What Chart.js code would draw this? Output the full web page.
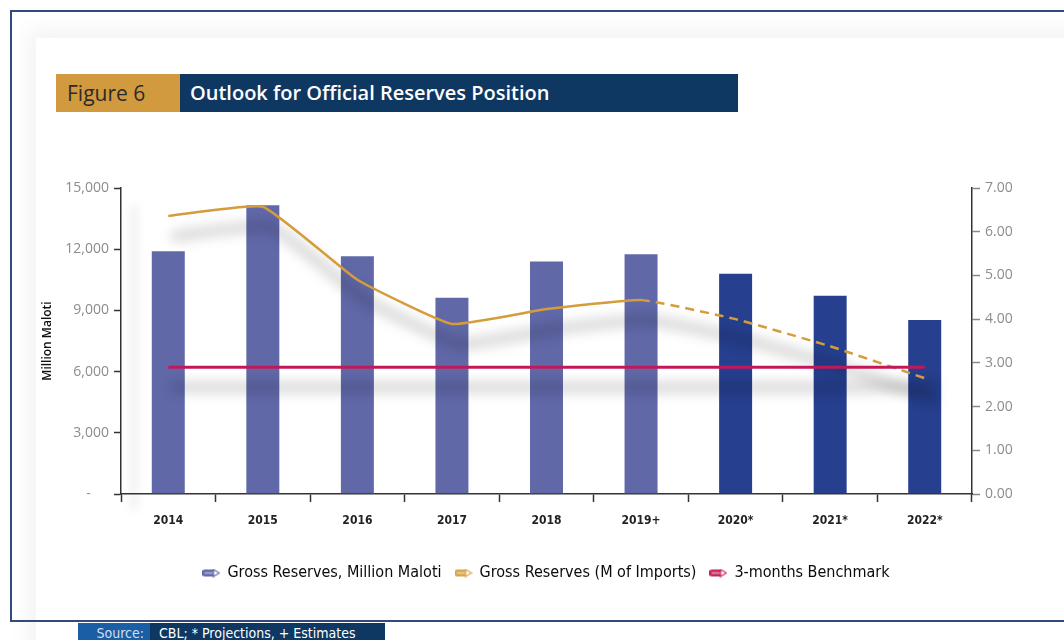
<!DOCTYPE html>
<html>
<head>
<meta charset="utf-8">
<script src="https://cdn.jsdelivr.net/npm/chart.js@4.4.1/dist/chart.umd.min.js"></script>
<style>
  html, body { margin: 0; padding: 0; background: #fff; }
  body { width: 1064px; height: 640px; position: relative; overflow: hidden; font-family: "Open Sans", sans-serif; }
  .frame { position: absolute; left: 10px; top: 10px; width: 1100px; height: 612px; border: 2px solid #2d4b7c; box-sizing: border-box; }
  .card { position: absolute; left: 36px; top: 38px; width: 1100px; height: 640px; background: #fff; box-shadow: 0 0 20px 8px rgba(0,0,0,0.05); }
  .vshade { position: absolute; left: 130px; top: 205px; width: 8px; height: 305px; background: rgba(0,0,0,0.06); filter: blur(5px); }
  .fig { position: absolute; left: 56px; top: 74px; width: 124px; height: 38px; background: #d19a3e; color: #2b2b2b; font-size: 21px; line-height: 38px; padding-left: 11px; box-sizing: border-box; }
  .ttl { position: absolute; left: 180px; top: 74px; width: 558px; height: 38px; background: #0e3761; color: #fff; font-size: 20px; font-weight: 600; line-height: 38px; padding-left: 10px; box-sizing: border-box; }
  .src1 { position: absolute; left: 78px; top: 623px; width: 72px; height: 20px; background: #1a5ea6; color: #d5deef; font-family: "DejaVu Sans Condensed", sans-serif; font-size: 14px; line-height: 20px; text-align: right; padding-right: 6px; box-sizing: border-box; }
  .src2 { position: absolute; left: 150px; top: 623px; width: 235px; height: 20px; background: #0e3761; color: #fff; font-family: "DejaVu Sans Condensed", sans-serif; font-size: 14px; line-height: 20px; padding-left: 9px; box-sizing: border-box; }
  canvas { position: absolute; left: 0; top: 0; }
</style>
</head>
<body>
<div class="card"></div>
<div class="frame"></div>
<div class="vshade"></div>
<div class="fig">Figure 6</div>
<div class="ttl">Outlook for Official Reserves Position</div>
<div class="src1">Source:</div>
<div class="src2">CBL; * Projections, + Estimates</div>
<canvas id="reserves" width="1064" height="640"></canvas>
<script>
const years = ['2014', '2015', '2016', '2017', '2018', '2019+', '2020*', '2021*', '2022*'];
const grossMaloti = [11950, 14200, 11700, 9670, 11450, 11800, 10850, 9770, 8580];
const monthsImports = [6.36, 6.57, 4.90, 3.89, 4.23, 4.44, 4.00, 3.38, 2.65];
const benchmark = [2.9, 2.9, 2.9, 2.9, 2.9, 2.9, 2.9, 2.9, 2.9];
const leftTicks = [0, 3000, 6000, 9000, 12000, 15000];
const rightTicks = [0, 1, 2, 3, 4, 5, 6, 7];

const barColors = years.map(y => y.endsWith('*') ? '#263f8e' : '#6068a8');

function pencil(color) {
  const c = document.createElement('canvas');
  c.width = 18; c.height = 9;
  const g = c.getContext('2d');
  g.fillStyle = color;
  g.beginPath();
  g.moveTo(3, 1); g.lineTo(11, 1); g.lineTo(11, 8); g.lineTo(3, 8);
  g.arc(3, 4.5, 3.5, Math.PI / 2, Math.PI * 1.5);
  g.fill();
  g.fillStyle = 'rgba(255,255,255,0.45)';
  g.fillRect(2, 3.5, 9, 2);
  g.strokeStyle = color; g.lineWidth = 1.2; g.fillStyle = '#fff';
  g.beginPath();
  g.moveTo(11, 1); g.lineTo(17, 4.5); g.lineTo(11, 8); g.closePath();
  g.fill(); g.stroke();
  return c;
}

const lineShadow = {
  id: 'lineShadow',
  afterDatasetDraw(chart, args) {
    if (args.index !== 0) return;
    const ctx = chart.ctx;
    [1, 2].forEach(i => {
      const line = chart.getDatasetMeta(i).dataset;
      if (!line || !line.points || !line.points.length) return;
      line.updateControlPoints(chart.chartArea);
      ctx.save();
      ctx.translate(8, 20);
      ctx.filter = 'blur(6px)';
      ctx.strokeStyle = 'rgba(0,0,0,0.14)';
      ctx.lineWidth = 12;
      ctx.lineCap = 'round';
      ctx.beginPath();
      line.path(ctx);
      ctx.stroke();
      ctx.restore();
    });
  }
};

new Chart(document.getElementById('reserves').getContext('2d'), {
  type: 'bar',
  data: {
    labels: years,
    datasets: [{
      label: 'Gross Reserves, Million Maloti',
      data: grossMaloti,
      backgroundColor: barColors,
      borderColor: 'rgba(255,255,255,0.3)',
      borderWidth: 1,
      barPercentage: 0.37,
      categoryPercentage: 1,
      yAxisID: 'y',
      order: 3,
      pointStyle: pencil('#6068a8')
    }, {
      type: 'line',
      label: 'Gross Reserves (M of Imports)',
      data: monthsImports,
      borderColor: '#d49c3a',
      backgroundColor: '#d49c3a',
      borderWidth: 2.5,
      tension: 0.12,
      pointRadius: 0,
      yAxisID: 'y1',
      order: 2,
      pointStyle: pencil('#d9a444'),
      segment: {
        borderDash: ctx => ctx.p0DataIndex >= 5 ? [9, 6] : undefined
      }
    }, {
      type: 'line',
      label: '3-months Benchmark',
      data: benchmark,
      borderColor: '#c2185a',
      backgroundColor: '#c2185a',
      borderWidth: 3,
      pointRadius: 0,
      yAxisID: 'y1',
      order: 1,
      pointStyle: pencil('#c8245a')
    }]
  },
  options: {
    responsive: false,
    maintainAspectRatio: false,
    animation: false,
    layout: {
      padding: { left: 30, right: 32, top: 188, bottom: 49 }
    },
    scales: {
      x: {
        afterFit: s => { s.height = 57; },
        grid: { drawOnChartArea: false, offset: true, tickLength: 8, tickColor: '#333', tickWidth: 1.5 },
        border: { color: '#333', width: 1.5 },
        ticks: { color: '#222', padding: 12, font: { family: 'DejaVu Sans Condensed', size: 12, weight: 'bold' } }
      },
      y: {
        position: 'left',
        min: 0, max: 15000,
        afterFit: s => { s.width = 91; },
        afterBuildTicks: s => { s.ticks = leftTicks.map(v => ({ value: v })); },
        grid: { drawOnChartArea: false, tickLength: 7, tickColor: '#333', tickWidth: 1.5 },
        border: { color: '#333', width: 1.5 },
        ticks: {
          color: '#8c8c8c', padding: 5,
          font: { family: 'Open Sans', size: 14 },
          callback: v => v === 0 ? '-     ' : v.toLocaleString('en-US')
        },
        title: {
          display: true, text: 'Million Maloti', color: '#111',
          padding: { top: 10, bottom: 0 },
          font: { family: 'Open Sans', size: 12, weight: '600' }
        }
      },
      y1: {
        position: 'right',
        min: 0, max: 7,
        afterFit: s => { s.width = 60; },
        afterBuildTicks: s => { s.ticks = rightTicks.map(v => ({ value: v })); },
        grid: { drawOnChartArea: false, tickLength: 8, tickColor: '#888', tickWidth: 1.5 },
        border: { color: '#333', width: 1.5 },
        ticks: {
          color: '#8c8c8c', padding: 5,
          font: { family: 'Open Sans', size: 14 },
          callback: v => v.toFixed(2)
        }
      }
    },
    plugins: {
      legend: {
        position: 'bottom',
        fullSize: false,
        labels: {
          usePointStyle: true,
          padding: 14,
          color: '#0a0a0a',
          font: { family: 'DejaVu Sans Condensed', size: 16 },
          sort: (a, b) => a.datasetIndex - b.datasetIndex
        }
      },
      tooltip: { enabled: false }
    }
  },
  plugins: [lineShadow]
});
</script>
</body>
</html>
